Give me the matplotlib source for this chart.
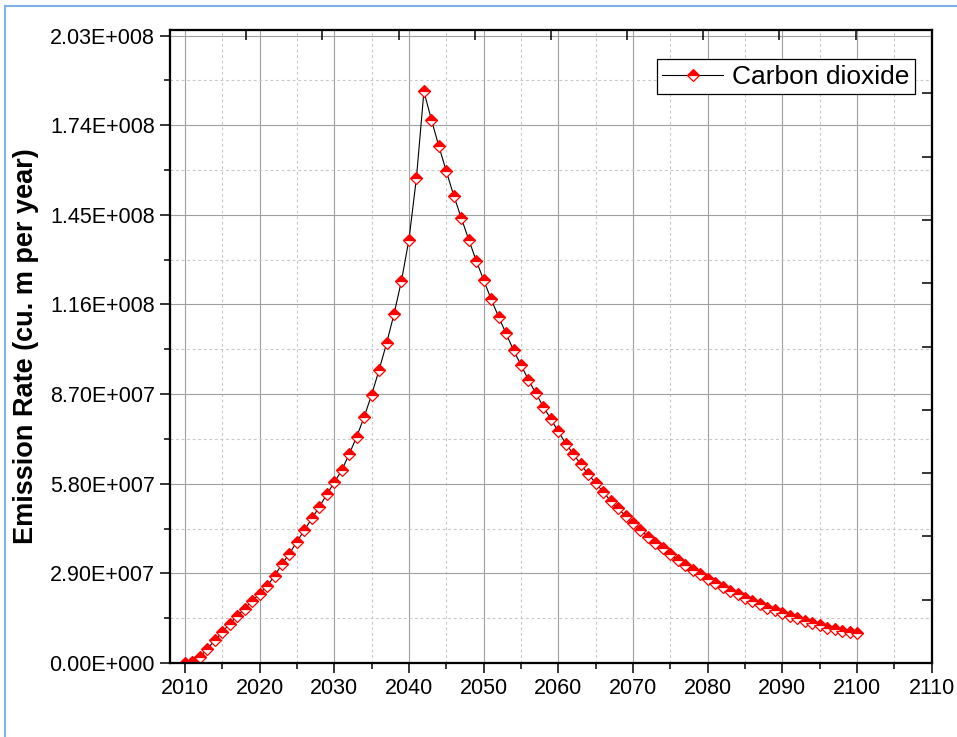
import numpy as np
import matplotlib.pyplot as plt
from matplotlib.ticker import FixedLocator, MultipleLocator
from matplotlib.lines import Line2D

plt.rcParams['font.family'] = ['Liberation Sans', 'DejaVu Sans']

# Data, values in millions of cu. m per year
years = np.arange(2010, 2101)
co2_millions = np.array([
    0.0, 0.3, 1.9, 4.6, 7.3, 10.0, 12.7, 15.2, 17.6, 20.1,
    22.4, 24.9, 28.2, 32.0, 35.4, 39.3, 43.0, 46.8, 50.5, 54.6,
    58.4, 62.4, 67.6, 73.2, 79.6, 86.8, 94.8, 103.4, 112.9, 123.7,
    137.0, 156.9, 184.9, 175.8, 167.2, 159.1, 151.2, 144.0, 137.0, 130.2,
    123.9, 117.7, 112.0, 106.6, 101.2, 96.4, 91.6, 87.2, 82.9, 78.9,
    74.9, 71.0, 67.6, 64.3, 61.1, 58.2, 55.4, 52.4, 50.0, 47.6,
    45.2, 43.1, 40.9, 38.9, 37.1, 35.2, 33.3, 31.6, 30.1, 28.7,
    27.3, 26.0, 24.6, 23.3, 22.2, 21.1, 20.1, 19.0, 17.9, 17.1,
    16.1, 15.2, 14.4, 13.6, 12.8, 12.2, 11.4, 10.9, 10.4, 10.0,
    9.6,
])
co2 = co2_millions * 1e6

x_ticks = np.arange(2010, 2111, 10)
y_ticks = [0, 2.9e7, 5.8e7, 8.7e7, 1.16e8, 1.45e8, 1.74e8, 2.03e8]
y_tick_labels = ['0.00E+000', '2.90E+007', '5.80E+007', '8.70E+007',
                 '1.16E+008', '1.45E+008', '1.74E+008', '2.03E+008']
series_label = 'Carbon dioxide'
y_label = 'Emission Rate (cu. m per year)'

fig = plt.figure(figsize=(9.57, 7.37), dpi=100)
ax = fig.add_axes([170 / 957, 1 - 663 / 737, (931.7 - 170) / 957, (663 - 30) / 737])

ax.plot(years, co2, color='black', lw=0.8, marker='D', ms=6.3,
        fillstyle='top', markerfacecolor='red', markerfacecoloralt='white',
        markeredgecolor='red', markeredgewidth=0.9, label=series_label, zorder=3)

ax.set_xlim(2008, 2110)
ax.set_ylim(0, 2.03e8 * 633 / 627.5)

ax.set_xticks(x_ticks)
ax.xaxis.set_minor_locator(MultipleLocator(5))
ax.set_yticks(y_ticks)
ax.set_yticklabels(y_tick_labels)
ax.yaxis.set_minor_locator(FixedLocator(np.arange(1.45e7, 2.03e8, 2.9e7)))

ax.tick_params(which='major', direction='out', length=7.5, width=1.1, labelsize=15.5)
ax.tick_params(which='minor', direction='out', length=4, width=1.1)
ax.tick_params(top=False, right=False)

ax.grid(which='major', color='#a0a0a0', lw=0.8, ls='-')
ax.grid(which='minor', color='#c8c8c8', lw=0.8, ls=(0, (2.5, 2.5)))
ax.set_axisbelow(True)

for s in ax.spines.values():
    s.set_linewidth(1.5)

ax.set_ylabel(y_label, fontsize=19.5, fontweight='bold')
ax.yaxis.set_label_coords(-0.172, 0.5)

# top and right axes: ten plain divisions, ticks pointing inward
top = ax.twiny()
top.set_xlim(0, 10)
top.set_xticks(range(11))
top.tick_params(axis='x', direction='in', length=7, width=1.1, labeltop=False)
right = ax.twinx()
right.set_ylim(0, 10)
right.set_yticks(range(11))
right.tick_params(axis='y', direction='in', length=7, width=1.1, labelright=False)
for a in (top, right):
    for s in a.spines.values():
        s.set_linewidth(1.5)

handle = Line2D([], [], color='black', lw=0.8, marker='D', ms=6.3, fillstyle='top',
                markerfacecolor='red', markerfacecoloralt='white',
                markeredgecolor='red', markeredgewidth=0.9)
leg = right.legend([handle], [series_label], loc='upper right',
                   bbox_to_anchor=(915 / 957, 1 - 59.5 / 737),
                   bbox_transform=fig.transFigure, borderaxespad=0,
                   fontsize=19, handlelength=2.3, fancybox=False,
                   framealpha=1, edgecolor='black', borderpad=0.2,
                   handletextpad=0.35)
leg.get_frame().set_linewidth(0.9)

# light blue outer frame (only top and left edges visible)
fig.add_artist(Line2D([5 / 957, 1], [1 - 6 / 737, 1 - 6 / 737],
                      transform=fig.transFigure, color='#7fb2e5', lw=1.5))
fig.add_artist(Line2D([5 / 957, 5 / 957], [0, 1 - 6 / 737],
                      transform=fig.transFigure, color='#7fb2e5', lw=1.5))

fig.savefig('out.png', dpi=100)
